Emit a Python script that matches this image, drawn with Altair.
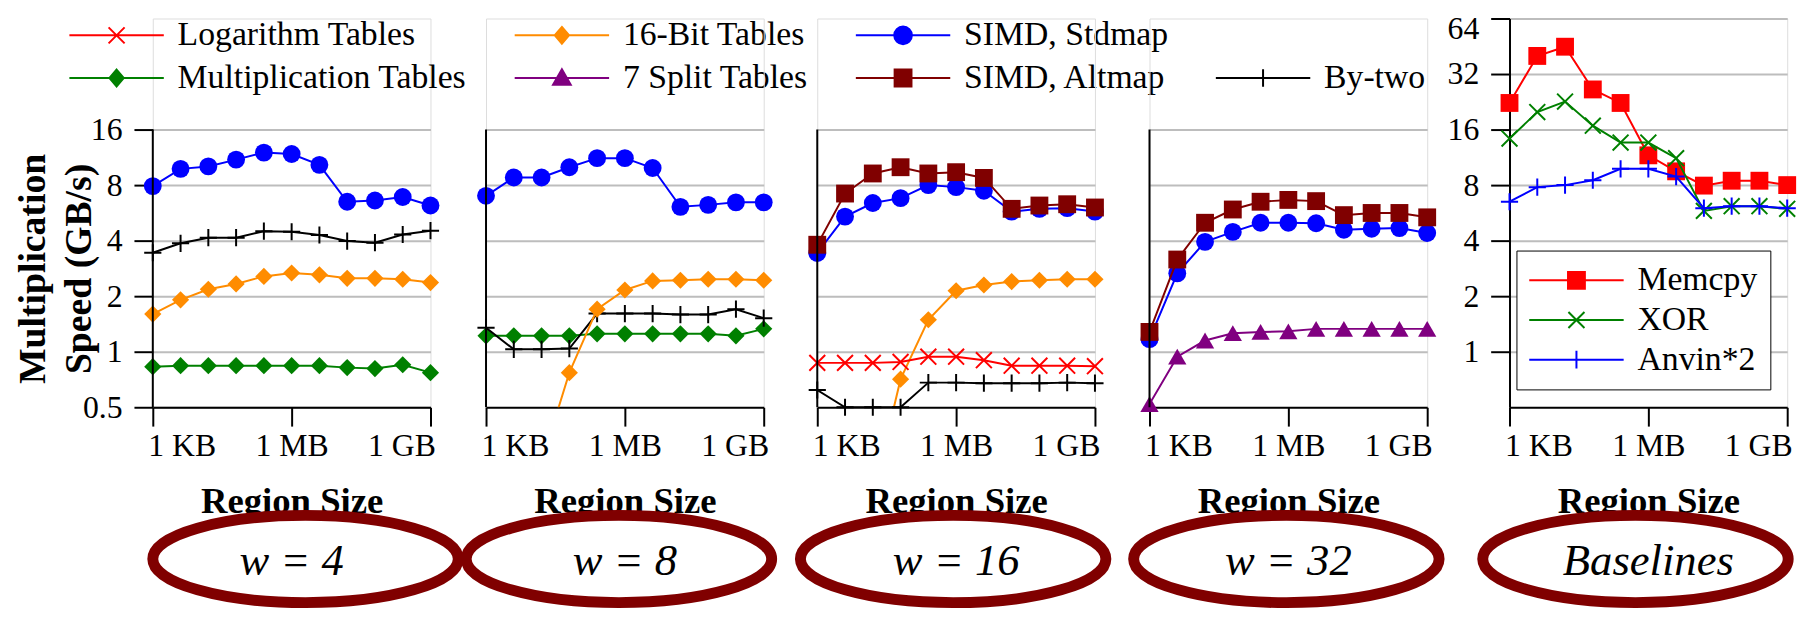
import altair as alt
import pandas as pd

# ---------------- data ----------------
sizes_kb = [1, 4, 16, 64, 256, 1024, 4096, 16384, 65536, 262144, 1048576]
x_tick_values = [1, 1024, 1048576]
x_tick_labels = ["1 KB", "1 MB", "1 GB"]
y_ticks_main = [0.5, 1, 2, 4, 8, 16]
y_grid_main = [1, 2, 4, 8, 16]
y_ticks_base = [1, 2, 4, 8, 16, 32, 64]
panel_labels = ["w = 4", "w = 8", "w = 16", "w = 32", "Baselines"]
# legend entries, listed column by column (2 rows x 4 columns; " " is the empty slot)
legend_order = ["Logarithm Tables", "Multiplication Tables", "16-Bit Tables", "7 Split Tables",
                "SIMD, Stdmap", "SIMD, Altmap", " ", "By-two"]
baseline_order = ["Memcpy", "XOR", "Anvin*2"]

# w = 4
w4_stdmap = [7.9, 9.8, 10.1, 11.0, 12.0, 11.8, 10.3, 6.5, 6.6, 6.9, 6.2]
w4_bytwo = [3.44, 3.87, 4.15, 4.15, 4.5, 4.47, 4.29, 3.98, 3.9, 4.32, 4.53]
w4_16bit = [1.6, 1.91, 2.18, 2.33, 2.56, 2.67, 2.61, 2.5, 2.5, 2.47, 2.37]
w4_mult = [0.83, 0.84, 0.84, 0.84, 0.84, 0.84, 0.84, 0.82, 0.81, 0.85, 0.77]
# w = 8
w8_stdmap = [7.0, 8.8, 8.8, 10.0, 11.2, 11.2, 9.9, 6.1, 6.25, 6.45, 6.45]
w8_16bit = [0.1, 0.16, 0.25, 0.77, 1.7, 2.16, 2.42, 2.44, 2.47, 2.47, 2.44]
w8_bytwo = [1.35, 1.03, 1.03, 1.04, 1.61, 1.61, 1.61, 1.59, 1.59, 1.70, 1.52]
w8_mult = [1.22, 1.22, 1.22, 1.22, 1.25, 1.25, 1.25, 1.25, 1.25, 1.22, 1.33]
# w = 16
w16_altmap = [3.8, 7.2, 9.25, 10.0, 9.25, 9.4, 8.75, 5.95, 6.2, 6.3, 6.05]
w16_stdmap = [3.43, 5.4, 6.4, 6.8, 8.0, 7.8, 7.45, 5.75, 5.95, 6.0, 5.75]
w16_16bit = [0.08, 0.12, 0.165, 0.71, 1.49, 2.14, 2.3, 2.4, 2.44, 2.47, 2.47]
w16_log = [0.87, 0.87, 0.87, 0.88, 0.94, 0.94, 0.9, 0.84, 0.84, 0.84, 0.835]
w16_bytwo = [0.62, 0.5, 0.5, 0.5, 0.68, 0.68, 0.675, 0.675, 0.675, 0.68, 0.675]
# w = 32
w32_altmap = [1.28, 3.16, 5.0, 5.9, 6.5, 6.65, 6.55, 5.5, 5.65, 5.65, 5.35]
w32_stdmap = [1.17, 2.66, 3.94, 4.46, 5.0, 5.0, 4.97, 4.58, 4.64, 4.68, 4.4]
w32_split7 = [0.52, 0.94, 1.15, 1.26, 1.28, 1.29, 1.33, 1.33, 1.33, 1.33, 1.33]
# baselines
base_memcpy = [22.3, 40.1, 45.0, 26.4, 22.3, 11.6, 9.5, 7.95, 8.45, 8.45, 8.0]
base_xor = [14.3, 19.9, 22.7, 16.8, 13.6, 13.6, 11.2, 5.8, 6.15, 6.15, 5.95]
base_anvin = [6.5, 7.8, 8.0, 8.5, 9.8, 9.8, 8.9, 6.0, 6.15, 6.15, 6.0]

# ---------------- styles ----------------
FONT = "Liberation Serif"
COLORS = {
    "Logarithm Tables": "#ff0000", "Multiplication Tables": "#008000",
    "16-Bit Tables": "#ff8c00", "7 Split Tables": "#800080",
    "SIMD, Stdmap": "#0000ff", "SIMD, Altmap": "#800000", "By-two": "#000000",
    " ": "transparent", "Memcpy": "#ff0000", "XOR": "#008000", "Anvin*2": "#0000ff",
}
MARKER = {
    "Logarithm Tables": "x", "Multiplication Tables": "diamond", "16-Bit Tables": "diamond",
    "7 Split Tables": "triangle", "SIMD, Stdmap": "circle", "SIMD, Altmap": "square",
    "By-two": "plus", " ": "none", "Memcpy": "square", "XOR": "x", "Anvin*2": "plus",
}
X_PATH = "M -1 -1 L 1 1 M -1 1 L 1 -1"
PLUS_PATH = "M -1 0 L 1 0 M 0 -1 L 0 1"
PLOT_MARKS = {
    "x": dict(shape=X_PATH, filled=False, size=256),
    "plus": dict(shape=PLUS_PATH, filled=False, size=300),
    "diamond": dict(shape="diamond", filled=True, size=300),
    "circle": dict(shape="circle", filled=True, size=324),
    "square": dict(shape="square", filled=True, size=324),
    "triangle": dict(shape="triangle-up", filled=True, size=340),
}
LINE = "M -5.6 0 L 5.6 0 "
LEGEND_PATHS = {
    "x": LINE + "M -0.95 -0.95 L 0.95 0.95 M -0.95 0.95 L 0.95 -0.95",
    "plus": LINE + "M -1 0 L 1 0 M 0 -1.05 L 0 1.05",
    "diamond": LINE + "M 0 -1 L 0.85 0 L 0 1 L -0.85 0 Z",
    "circle": LINE + ("M -1.05 0 C -1.05 -0.58 -0.58 -1.05 0 -1.05 C 0.58 -1.05 1.05 -0.58 1.05 0 "
                      "C 1.05 0.58 0.58 1.05 0 1.05 C -0.58 1.05 -1.05 0.58 -1.05 0 Z"),
    "square": LINE + "M -1 -1 L 1 -1 L 1 1 L -1 1 Z",
    "triangle": LINE + "M 0 -1.05 L 1.05 0.8 L -1.05 0.8 Z",
    "none": "M 0 0 L 0 0",
}
# ellipse outline (unit half-width 1, half-height 0.2857)
ELLIPSE = ("M -1 0 C -1 -0.1578 -0.5523 -0.2857 0 -0.2857 C 0.5523 -0.2857 1 -0.1578 1 0 "
           "C 1 0.1578 0.5523 0.2857 0 0.2857 C -0.5523 0.2857 -1 0.1578 -1 0 Z")

W, H = 280, 392
GRID = "#bdbdbd"
ellipse_dx = [14, -6, -3, -2, -13]
gaps = [56, 54, 55, 83]

label_expr = (f"datum.value <= {x_tick_values[0]} ? '{x_tick_labels[0]}' : "
              f"datum.value <= {x_tick_values[1]} ? '{x_tick_labels[1]}' : '{x_tick_labels[2]}'")

x_scale = alt.Scale(type="log", base=2, domain=[sizes_kb[0], sizes_kb[-1]], nice=False)
y_scale = alt.Scale(type="log", base=2, domain=[0.5, 64], nice=False)

x_axis = alt.Axis(
    values=x_tick_values, labelExpr=label_expr, labelFlush=True, labelFlushOffset=5,
    labelFont=FONT, labelFontSize=32, labelColor="black", labelPadding=5, labelOverlap=False,
    tickSize=19, tickWidth=2, tickColor="black", domainColor="black", domainWidth=2,
    grid=False, title="Region Size", titleFont=FONT, titleFontSize=37, titleFontWeight="bold",
    titleColor="black", titleBaseline="alphabetic", titleY=106, titleX=W / 2,
)


def y_axis(kind):
    common = dict(grid=True, gridColor=GRID, gridWidth=2, labelFont=FONT, labelFontSize=32,
                  labelColor="black", labelPadding=12, tickSize=19, tickWidth=2,
                  tickColor="black", format="~g", labelOverlap=False)
    if kind == "first":
        return alt.Axis(values=y_ticks_main, domain=False,
                        title=["Multiplication", "Speed (GB/s)"], titleFont=FONT,
                        titleFontSize=38, titleFontWeight="bold", titleColor="black",
                        titleLineHeight=46, titleX=-101, titleY=252, **common)
    if kind == "base":
        top = y_ticks_base[-1]
        # the topmost label is nudged down a little so it stays inside the picture
        return alt.Axis(values=y_ticks_base, domain=True, domainColor="black", domainWidth=2,
                        title=None,
                        labelOffset={"condition": {"test": f"datum.value == {top}", "value": 10},
                                     "value": 0},
                        **common)
    return alt.Axis(values=y_grid_main, domain=False, ticks=False, labels=False, title=None,
                    grid=True, gridColor=GRID, gridWidth=2)


def fill_expr(order):
    parts = [f"datum.value == '{s}' ? '{COLORS[s]}'" for s in order]
    return " : ".join(parts) + " : 'transparent'"


def legend(kind, order):
    common = dict(title=None, orient="none", labelFont=FONT, labelFontSize=34, labelColor="black",
                  labelLimit=1000, labelOffset=44.5, symbolOffset=30.5, symbolSize=289,
                  symbolStrokeWidth=2, symbolFillColor={"expr": fill_expr(order)},
                  labelExpr="datum.value == ' ' ? '' : datum.label")
    if kind == "top":
        return alt.Legend(legendX=-84, legendY=0, columns=4, padding=0, columnPadding=43,
                          rowPadding=9, **common)
    return alt.Legend(legendX=7, legendY=234, columns=1, padding=13, rowPadding=6,
                      strokeColor="black", fillColor="white", **common)


def legend_layer(order, kind):
    lg = legend(kind, order)
    dom = list(order)
    cols = [COLORS[s] for s in order]
    return alt.Chart(pd.DataFrame({"series": dom})).mark_point(opacity=0).encode(
        shape=alt.Shape("series:N", scale=alt.Scale(domain=dom, range=[LEGEND_PATHS[MARKER[s]] for s in order]), legend=lg),
        stroke=alt.Stroke("series:N", scale=alt.Scale(domain=dom, range=cols), legend=lg),
        fill=alt.Fill("series:N", scale=alt.Scale(domain=dom, range=cols), legend=lg),
    )


def make_panel(series, idx, ykind, legend_spec=None):
    rows = []
    for name, vals in series:
        for s, v in zip(sizes_kb, vals):
            rows.append({"size_kb": s, "speed": v, "series": name})
    df = pd.DataFrame(rows)
    xenc = alt.X("size_kb:Q", scale=x_scale, axis=x_axis)
    yenc = alt.Y("speed:Q", scale=y_scale, axis=y_axis(ykind))
    layers = []
    for name, _ in series:
        d = df[df.series == name]
        layers.append(alt.Chart(d).mark_line(color=COLORS[name], strokeWidth=2, clip=True)
                      .encode(x=xenc, y=yenc))
        m = PLOT_MARKS[MARKER[name]]
        layers.append(alt.Chart(d[d.speed >= 0.5]).mark_point(
            shape=m["shape"], filled=m["filled"], size=m["size"], color=COLORS[name],
            strokeWidth=2, opacity=1).encode(x=xenc, y=yenc))
    one = pd.DataFrame({"k": [0]})
    if ykind != "base":
        layers.append(alt.Chart(one).mark_rule(color="black", strokeWidth=2).encode(
            x=alt.datum(sizes_kb[0]), y=alt.datum(y_ticks_main[0]), y2=alt.datum(y_ticks_main[-1])))
    if legend_spec is not None:
        layers.append(legend_layer(*legend_spec))
    layers.append(alt.Chart(one).mark_point(
        shape=ELLIPSE, size=308 * 308, filled=False, stroke="#800000", strokeWidth=11, opacity=1
    ).encode(x=alt.value(W / 2 + ellipse_dx[idx]), y=alt.value(545)))
    layers.append(alt.Chart(one).mark_text(
        text=panel_labels[idx], font=FONT, fontSize=45, fontStyle="italic", color="black",
        align="center", baseline="middle").encode(x=alt.value(W / 2), y=alt.value(547)))
    return alt.layer(*layers).properties(width=W, height=H)


def spacer(g):
    return alt.Chart(pd.DataFrame({"k": [0]})).mark_text(text="", opacity=0).properties(width=g, height=H)


p1 = make_panel([("16-Bit Tables", w4_16bit), ("Multiplication Tables", w4_mult),
                 ("By-two", w4_bytwo), ("SIMD, Stdmap", w4_stdmap)], 0, "first",
                (legend_order, "top"))
p2 = make_panel([("Multiplication Tables", w8_mult), ("By-two", w8_bytwo),
                 ("16-Bit Tables", w8_16bit), ("SIMD, Stdmap", w8_stdmap)], 1, "mid")
p3 = make_panel([("16-Bit Tables", w16_16bit), ("Logarithm Tables", w16_log),
                 ("By-two", w16_bytwo), ("SIMD, Stdmap", w16_stdmap),
                 ("SIMD, Altmap", w16_altmap)], 2, "mid")
p4 = make_panel([("7 Split Tables", w32_split7), ("SIMD, Stdmap", w32_stdmap),
                 ("SIMD, Altmap", w32_altmap)], 3, "mid")
p5 = make_panel([("Memcpy", base_memcpy), ("XOR", base_xor), ("Anvin*2", base_anvin)], 4, "base",
                (baseline_order, "base"))

chart = alt.hconcat(p1, spacer(gaps[0]), p2, spacer(gaps[1]), p3, spacer(gaps[2]), p4,
                    spacer(gaps[3]), p5, spacing=0, bounds="flush").resolve_scale(
    x="independent", y="independent", shape="independent", stroke="independent",
    fill="independent",
).properties(
    padding={"left": 6, "top": 1, "right": 0, "bottom": 0}
).configure_view(strokeWidth=0).configure_legend(strokeWidth=2.5).configure(font=FONT)

chart.save("out.html", embed_options={"renderer": "svg", "actions": False})
